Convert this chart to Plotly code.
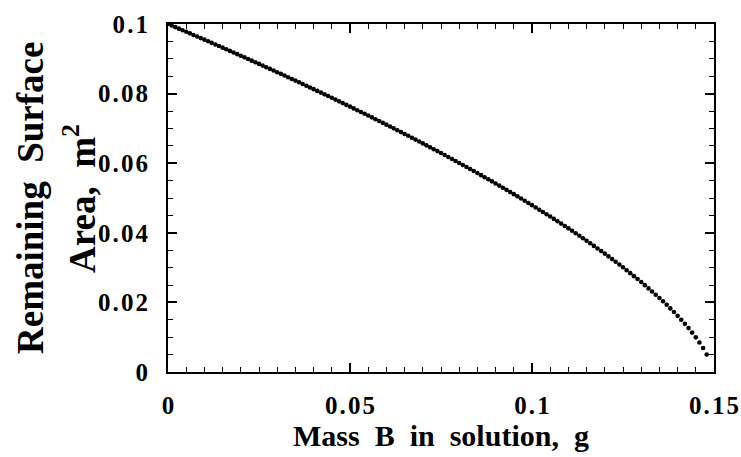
import plotly.graph_objects as go

# Mass of B dissolved (g)
mass_b = [
    0.000, 0.001, 0.002, 0.003, 0.004, 0.005, 0.006, 0.007, 0.008, 0.009,
    0.010, 0.011, 0.012, 0.013, 0.014, 0.015, 0.016, 0.017, 0.018, 0.019,
    0.020, 0.021, 0.022, 0.023, 0.024, 0.025, 0.026, 0.027, 0.028, 0.029,
    0.030, 0.031, 0.032, 0.033, 0.034, 0.035, 0.036, 0.037, 0.038, 0.039,
    0.040, 0.041, 0.042, 0.043, 0.044, 0.045, 0.046, 0.047, 0.048, 0.049,
    0.050, 0.051, 0.052, 0.053, 0.054, 0.055, 0.056, 0.057, 0.058, 0.059,
    0.060, 0.061, 0.062, 0.063, 0.064, 0.065, 0.066, 0.067, 0.068, 0.069,
    0.070, 0.071, 0.072, 0.073, 0.074, 0.075, 0.076, 0.077, 0.078, 0.079,
    0.080, 0.081, 0.082, 0.083, 0.084, 0.085, 0.086, 0.087, 0.088, 0.089,
    0.090, 0.091, 0.092, 0.093, 0.094, 0.095, 0.096, 0.097, 0.098, 0.099,
    0.100, 0.101, 0.102, 0.103, 0.104, 0.105, 0.106, 0.107, 0.108, 0.109,
    0.110, 0.111, 0.112, 0.113, 0.114, 0.115, 0.116, 0.117, 0.118, 0.119,
    0.120, 0.121, 0.122, 0.123, 0.124, 0.125, 0.126, 0.127, 0.128, 0.129,
    0.130, 0.131, 0.132, 0.133, 0.134, 0.135, 0.136, 0.137, 0.138, 0.139,
    0.140, 0.141, 0.142, 0.143, 0.144, 0.145, 0.146, 0.147, 0.148,
]

# Remaining surface area (m^2)
surface_area = [
    0.10000, 0.09955, 0.09910, 0.09866, 0.09821, 0.09776, 0.09731, 0.09686, 0.09640, 0.09595,
    0.09550, 0.09504, 0.09458, 0.09412, 0.09366, 0.09320, 0.09274, 0.09227, 0.09181, 0.09134,
    0.09088, 0.09041, 0.08994, 0.08947, 0.08900, 0.08853, 0.08805, 0.08758, 0.08710, 0.08663,
    0.08615, 0.08567, 0.08518, 0.08470, 0.08421, 0.08373, 0.08324, 0.08275, 0.08226, 0.08177,
    0.08128, 0.08078, 0.08029, 0.07979, 0.07929, 0.07879, 0.07828, 0.07777, 0.07727, 0.07676,
    0.07626, 0.07575, 0.07523, 0.07472, 0.07420, 0.07369, 0.07317, 0.07264, 0.07212, 0.07160,
    0.07108, 0.07055, 0.07001, 0.06948, 0.06894, 0.06841, 0.06787, 0.06732, 0.06678, 0.06623,
    0.06569, 0.06513, 0.06458, 0.06402, 0.06347, 0.06291, 0.06234, 0.06177, 0.06121, 0.06064,
    0.06007, 0.05949, 0.05891, 0.05833, 0.05775, 0.05717, 0.05657, 0.05598, 0.05538, 0.05478,
    0.05418, 0.05357, 0.05295, 0.05234, 0.05172, 0.05111, 0.05048, 0.04985, 0.04921, 0.04858,
    0.04795, 0.04729, 0.04664, 0.04598, 0.04533, 0.04467, 0.04399, 0.04332, 0.04264, 0.04196,
    0.04128, 0.04057, 0.03986, 0.03915, 0.03844, 0.03773, 0.03699, 0.03624, 0.03550, 0.03476,
    0.03402, 0.03323, 0.03244, 0.03166, 0.03087, 0.03008, 0.02924, 0.02840, 0.02755, 0.02671,
    0.02587, 0.02495, 0.02403, 0.02312, 0.02220, 0.02128, 0.02031, 0.01931, 0.01828, 0.01722,
    0.01613, 0.01500, 0.01383, 0.01261, 0.01132, 0.00995, 0.00848, 0.00688, 0.00505,
]

x_tick_vals = [0, 0.05, 0.1, 0.15]
x_tick_text = ["0", "0.05", "0.1", "0.15"]
y_tick_vals = [0, 0.02, 0.04, 0.06, 0.08, 0.1]
y_tick_text = ["0", "0.02", "0.04", "0.06", "0.08", "0.1"]

x_title = "Mass  B  in  solution,  g"
y_title_line1 = "Remaining  Surface"
y_title_line2 = "Area,  m<sup>2</sup>"

SP = "\u200a"
def spaced(s):
    return SP.join(list(s))

FONT = "Liberation Serif"
W, H = 741, 457
ML, MR, MT, MB = 168, 27, 24, 85
PW, PH = W - ML - MR, H - MT - MB

fig = go.Figure()
fig.add_trace(go.Scatter(
    x=mass_b, y=surface_area, mode="markers",
    marker=dict(color="black", size=4.6, line=dict(width=0)),
    cliponaxis=False, showlegend=False,
))

axis_common = dict(
    showgrid=False, zeroline=False, showline=True, linecolor="black", linewidth=2,
    mirror="ticks", ticks="inside", ticklen=9, tickwidth=1.5, tickcolor="black",
    tickfont=dict(family=FONT, size=25, color="black", weight="bold"),
    ticklabeloverflow="allow", automargin=False,
)

fig.update_xaxes(
    range=[0, 0.15], tickvals=x_tick_vals, ticktext=[spaced(t) for t in x_tick_text],
    minor=dict(dtick=0.005, ticks="inside", ticklen=5, tickwidth=1.2, tickcolor="black"),
    ticklabelstandoff=10, **axis_common,
)
fig.update_yaxes(
    range=[0, 0.1], tickvals=y_tick_vals, ticktext=[spaced(t) for t in y_tick_text],
    minor=dict(dtick=0.005, ticks="inside", ticklen=5, tickwidth=1.2, tickcolor="black"),
    ticklabelstandoff=13, **axis_common,
)

def px_to_paper_x(px):
    return (px - ML) / PW

def px_to_paper_y(py):
    return (H - MB - py) / PH

title_font = dict(family=FONT, size=30, color="black", weight="bold")
fig.add_annotation(
    text=x_title, xref="paper", yref="paper", x=px_to_paper_x(441), y=px_to_paper_y(435),
    xanchor="center", yanchor="middle", showarrow=False, font=title_font,
)
yfont = dict(family=FONT, size=37, color="black", weight="bold")
fig.add_annotation(
    text=y_title_line1, xref="paper", yref="paper", x=px_to_paper_x(30), y=px_to_paper_y(198),
    xanchor="center", yanchor="middle", showarrow=False, textangle=-90, font=yfont,
)
fig.add_annotation(
    text=y_title_line2, xref="paper", yref="paper", x=px_to_paper_x(79), y=px_to_paper_y(199),
    xanchor="center", yanchor="middle", showarrow=False, textangle=-90, font=yfont,
)

fig.update_layout(
    width=W, height=H, margin=dict(l=ML, r=MR, t=MT, b=MB),
    paper_bgcolor="white", plot_bgcolor="white",
)

fig.write_html("out.html")
